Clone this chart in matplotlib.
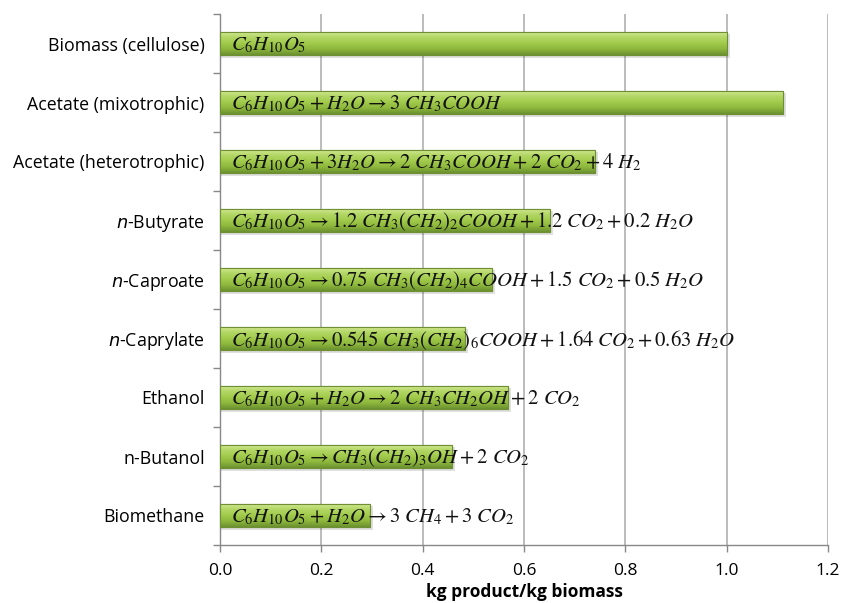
import matplotlib
matplotlib.use("Agg")
import matplotlib.pyplot as plt
import numpy as np
from matplotlib.colors import LinearSegmentedColormap

categories = [
    "Biomass (cellulose)",
    "Acetate (mixotrophic)",
    "Acetate (heterotrophic)",
    "$\\it{n}$-Butyrate",
    "$\\it{n}$-Caproate",
    "$\\it{n}$-Caprylate",
    "Ethanol",
    "n-Butanol",
    "Biomethane",
]
values = [1.0, 1.111, 0.741, 0.652, 0.537, 0.484, 0.568, 0.457, 0.296]
equations = [
    r"$C_6H_{10}O_5$",
    r"$C_6H_{10}O_5 + H_2O \rightarrow 3\ CH_3COOH$",
    r"$C_6H_{10}O_5 + 3H_2O \rightarrow 2\ CH_3COOH + 2\ CO_2 + 4\ H_2$",
    r"$C_6H_{10}O_5 \rightarrow 1.2\ CH_3(CH_2)_2COOH + 1.2\ CO_2 + 0.2\ H_2O$",
    r"$C_6H_{10}O_5 \rightarrow 0.75\ CH_3(CH_2)_4COOH + 1.5\ CO_2 + 0.5\ H_2O$",
    r"$C_6H_{10}O_5 \rightarrow 0.545\ CH_3(CH_2)_6COOH + 1.64\ CO_2 + 0.63\ H_2O$",
    r"$C_6H_{10}O_5 + H_2O \rightarrow 2\ CH_3CH_2OH + 2\ CO_2$",
    r"$C_6H_{10}O_5 \rightarrow CH_3(CH_2)_3OH + 2\ CO_2$",
    r"$C_6H_{10}O_5 + H_2O \rightarrow 3\ CH_4 + 3\ CO_2$",
]
xticks = [0.0, 0.2, 0.4, 0.6, 0.8, 1.0, 1.2]

plt.rcParams["font.family"] = ["Open Sans", "DejaVu Sans"]

fig = plt.figure(figsize=(8.41, 6.03), dpi=100)
ax = fig.add_axes([220 / 841, 58 / 603, 608 / 841, 531 / 603])

n = len(categories)
y = np.arange(n)[::-1]
bar_h = 0.4

green = LinearSegmentedColormap.from_list(
    "bar", ["#6c9130", "#8db83c", "#a2cb4c", "#b3d766", "#d6ea98"]
)
grad = np.linspace(0, 1, 64).reshape(-1, 1)

for yi, v in zip(y, values):
    # soft shadow under the bar
    ax.barh(yi - 0.04, v + 0.004, height=bar_h, left=0.002, color="#000000",
            alpha=0.12, lw=0, zorder=2)
    bar = ax.barh(yi, v, height=bar_h, color="#9cc548", edgecolor="#6f8f34",
                  lw=0.8, zorder=3)[0]
    im = ax.imshow(grad, cmap=green, aspect="auto", origin="lower",
                   extent=[0, v, yi - bar_h / 2, yi + bar_h / 2], zorder=3.5)
    im.set_clip_path(bar)
    ax.barh(yi, v, height=bar_h, color="none", edgecolor="#6f8f34", lw=0.8,
            zorder=4)

for yi, eq in zip(y, equations):
    ax.text(0.022, yi - 0.02, eq, fontsize=14.9, va="center", ha="left",
            math_fontfamily="stix", color="#111111", zorder=5)

ax.set_xlim(0, 1.2)
ax.set_ylim(-0.5, n - 0.5)
ax.set_xticks(xticks)
ax.set_xticklabels([f"{t:.1f}" for t in xticks], fontsize=12.5)
ax.set_yticks(y)
ax.set_yticklabels(categories, fontsize=12.8, math_fontfamily="dejavusans")
ax.tick_params(axis="y", length=0, pad=11)
ax.set_yticks(np.arange(-0.5, n, 1.0), minor=True)
ax.tick_params(axis="y", which="minor", length=5, color="#888888", width=1)
ax.tick_params(axis="x", length=5, color="#888888", width=1, pad=8)
ax.grid(axis="x", color="#b0b0b0", lw=1.2, zorder=0)
ax.set_axisbelow(True)
for s in ["top", "right"]:
    ax.spines[s].set_visible(False)
for s in ["left", "bottom"]:
    ax.spines[s].set_color("#888888")
    ax.spines[s].set_linewidth(1)
ax.set_xlabel("kg product/kg biomass", fontsize=12.5, fontweight="bold", labelpad=3)

fig.savefig("out.png", dpi=100)
